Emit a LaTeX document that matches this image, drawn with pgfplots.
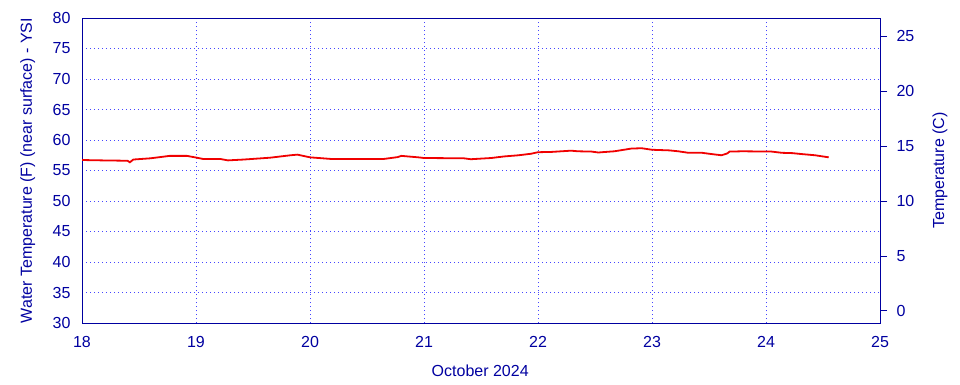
\documentclass[border=0pt]{standalone}
\usepackage{pgfplots}
\pgfplotsset{compat=1.18}
\usepackage{fontspec}
\setmainfont{Liberation Sans}
\definecolor{axblue}{RGB}{0,0,160}
\definecolor{gridblue}{RGB}{70,70,255}
\definecolor{linered}{RGB}{240,0,0}
\begin{document}
\fontsize{16}{19}\selectfont
\begin{tikzpicture}[x=1pt,y=1pt]
\path[use as bounding box] (0,0) rectangle (960,384);
\begin{axis}[
  at={(82pt,61pt)}, anchor=south west,
  scale only axis, width=798pt, height=305pt,
  xmin=18, xmax=25, ymin=30, ymax=80,
  xtick={18,19,...,25}, ytick={30,35,...,80},
  grid=major,
  major grid style={gridblue, line width=0.7pt, dash pattern=on 0.8pt off 3.2pt},
  major tick length=0pt,
  axis line style={axblue, line width=0.8pt},
  ticklabel style={text=axblue, font=\fontsize{16}{19}\selectfont},
  /pgf/number format/assume math mode=true,
  yticklabel style={xshift=-6pt},
  xticklabel style={yshift=-8pt},
  xlabel={October 2024},
  every axis x label/.style={at={(axis description cs:0.499,-0.157)}, anchor=center, text=axblue, font=\fontsize{16}{19}\selectfont},
  ylabel={Water Temperature (F) (near surface) - YSI},
  every axis y label/.style={at={(axis description cs:-0.068,0.5)}, rotate=90, anchor=center, text=axblue, font=\fontsize{16}{19}\selectfont},
]
\addplot[linered, line width=1.8pt, mark=none] coordinates {
(18.00,56.72) (18.20,56.65) (18.40,56.6) (18.42,56.35) (18.45,56.8)
(18.60,57.0) (18.77,57.4) (18.92,57.4) (18.99,57.16) (19.06,56.9)
(19.21,56.9) (19.28,56.66) (19.42,56.8) (19.65,57.1) (19.83,57.5)
(19.89,57.6) (20.00,57.16) (20.18,56.9) (20.53,56.9) (20.65,56.9)
(20.77,57.2) (20.80,57.4) (20.95,57.16) (21.00,57.05) (21.35,57.0)
(21.41,56.85) (21.59,57.05) (21.70,57.3) (21.83,57.5) (21.94,57.75)
(22.00,58.0) (22.12,58.05) (22.29,58.25) (22.35,58.15) (22.47,58.1)
(22.53,57.95) (22.56,58.0) (22.67,58.15) (22.82,58.6) (22.91,58.65)
(23.00,58.4) (23.15,58.3) (23.23,58.15) (23.32,57.9) (23.44,57.9)
(23.52,57.7) (23.61,57.5) (23.66,57.8) (23.68,58.1) (23.79,58.15)
(24.05,58.1) (24.14,57.9) (24.23,57.85) (24.31,57.7) (24.43,57.5)
(24.55,57.16)
};
\end{axis}
\begin{axis}[
  at={(82pt,61pt)}, anchor=south west,
  scale only axis, width=798pt, height=305pt,
  xmin=18, xmax=25, ymin=-1.1111, ymax=26.6667,
  axis x line=none, axis y line*=right,
  ytick={0,5,...,25},
  tick align=outside, major tick length=7pt,
  tick style={axblue, line width=0.8pt},
  axis line style={axblue, line width=0.8pt},
  ticklabel style={text=axblue, font=\fontsize{16}{19}\selectfont},
  /pgf/number format/assume math mode=true,
  yticklabel style={xshift=4pt},
  ylabel={Temperature (C)},
  every axis y label/.style={at={(axis description cs:1.075,0.5)}, rotate=90, anchor=center, text=axblue, font=\fontsize{16}{19}\selectfont},
]
\addplot[draw=none] coordinates {(18,0)};
\end{axis}
\end{tikzpicture}
\end{document}
